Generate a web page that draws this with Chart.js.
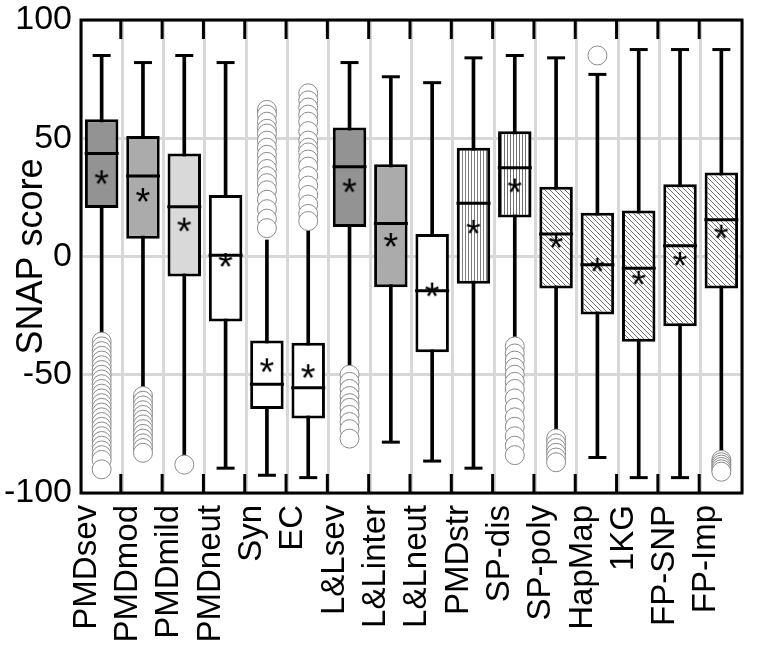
<!DOCTYPE html>
<html><head><meta charset="utf-8">
<script src="https://cdn.jsdelivr.net/npm/chart.js@4"></script>
<style>html,body{margin:0;padding:0;background:#fff;}</style>
</head><body>
<canvas id="c" width="762" height="652" style="width:762px;height:652px;display:block"></canvas>
<script>
const categories = ['PMDsev','PMDmod','PMDmild','PMDneut','Syn','EC','L&Lsev','L&Linter','L&Lneut','PMDstr','SP-dis','SP-poly','HapMap','1KG','FP-SNP','FP-Imp'];
const whiskerHigh = [85, 82, 85, 82, 7, 11, 82, 76, 73.5, 84, 85, 84, 77, 87.5, 87.5, 87.5];
const q3 = [58, 51, 43.5, 26, -35.5, -36.5, 54.5, 39, 9.5, 46, 53, 29.5, 18.5, 19.5, 30.5, 35.5];
const medians = [43.5, 34, 21, 0.5, -54, -55.5, 38, 14, -14.5, 22.5, 37.5, 9.5, -3.5, -5, 4.5, 15.5];
const q1 = [20.5, 7.5, -8.5, -27.5, -64.5, -68.5, 12.5, -13, -40.5, -11.5, 16.5, -13.5, -24.5, -36, -29.5, -13.5];
const whiskerLow = [-34, -57, -85, -89.5, -92.5, -93.5, -48, -78.5, -86.5, -89.5, -35.5, -75, -85, -93.5, -93.5, -83.5];
const means = [33.5, 26, 13.5, -1.5, -46, -48.5, 30, 7, -14, 12.5, 30, 6.5, -3.5, -9, -1, 10.5];
const outliers = [
  [-36,-38,-40,-42,-44,-46,-48,-50,-52,-54,-56,-58,-60,-62,-64,-66,-68,-70,-72,-74,-76,-78,-80,-82,-84,-86,-90],
  [-59,-61,-63,-65,-67,-69,-71,-73,-75,-77,-79,-81,-83],
  [-88],
  [],
  [62,60,57,54,52,49,46,43,40,37,34,31,28,24,20,16,12],
  [69,66,63,60,57,53,49,46,44,41,38,34,30,26,22,18,15],
  [-50,-53,-56,-59,-62,-64,-67,-70,-73,-77],
  [],
  [],
  [],
  [-38,-41,-44,-47,-50,-53,-56,-60,-64,-68,-72,-76,-80,-84],
  [-77,-79,-81,-83,-85,-87],
  [85],
  [],
  [],
  [-86,-87,-88,-89,-90,-91]
];
const yTicks = [-100, -50, 0, 50, 100];

const FONT = "'Liberation Sans', Arial, Helvetica, sans-serif";
Chart.defaults.font.family = FONT;

function vPattern(step, color){
  const c = document.createElement('canvas'); c.width = step; c.height = 4;
  const g = c.getContext('2d'); g.fillStyle = '#fff'; g.fillRect(0,0,step,4);
  g.fillStyle = color; g.fillRect(0,0,1,4);
  return g.createPattern(c, 'repeat');
}
function dPattern(s, color){
  const c = document.createElement('canvas'); c.width = s; c.height = s;
  const g = c.getContext('2d'); g.fillStyle = '#fff'; g.fillRect(0,0,s,s);
  g.fillStyle = color;
  for (let i = 0; i < s; i++) g.fillRect(i, i, 1, 1);
  return g.createPattern(c, 'repeat');
}
function starImg(){
  const c = document.createElement('canvas'); c.width = 24; c.height = 24;
  const g = c.getContext('2d'); g.font = "38px " + FONT; g.fillStyle = '#000';
  const m = g.measureText('*');
  g.fillText('*', 12 - (m.actualBoundingBoxRight - m.actualBoundingBoxLeft)/2, 12 + (m.actualBoundingBoxAscent - m.actualBoundingBoxDescent)/2);
  return c;
}
const vPat = vPattern(3, '#7d7d7d');
const vPat2 = vPattern(3, '#6e6e6e');
const dPat = dPattern(5, '#6e6e6e');
const boxFill = ['#939393','#ababab','#d9d9d9','#ffffff','#ffffff','#ffffff','#939393','#ababab','#ffffff', vPat, vPat2, dPat, dPat, dPat, dPat, dPat];

const outlierPoints = [];
outliers.forEach((arr, i) => arr.forEach(v => outlierPoints.push({x: categories[i], y: v})));

// hide a whisker cap when an outlier circle sits right on the whisker end
function capRadius(i, high){
  const w = high ? whiskerHigh[i] : whiskerLow[i];
  const near = outliers[i].some(v => (high ? v > w : v < w) && Math.abs(v - w) < 6);
  return near ? 0 : 9;
}

const framePlugin = {
  id: 'frame',
  afterDatasetsDraw(chart){
    const {ctx, chartArea: a, scales: {x}} = chart;
    ctx.save(); ctx.strokeStyle = '#000'; ctx.lineWidth = 3;
    ctx.strokeRect(a.left, a.top, a.right - a.left, a.bottom - a.top);
    ctx.beginPath();
    for (let i = 1; i < categories.length; i++){
      const px = (x.getPixelForValue(i-1) + x.getPixelForValue(i)) / 2 - 1.5;
      ctx.moveTo(px, a.top); ctx.lineTo(px, a.top + 19);
      ctx.moveTo(px, a.bottom); ctx.lineTo(px, a.bottom - 19);
    }
    ctx.stroke(); ctx.restore();
  }
};

new Chart(document.getElementById('c'), {
  type: 'bar',
  data: {
    labels: categories,
    datasets: [
      { type: 'bar', data: whiskerLow.map((lo, i) => [lo, whiskerHigh[i]]), backgroundColor: '#000', borderWidth: 0, barThickness: 3, grouped: false, order: 6 },
      { type: 'bar', data: q1.map((lo, i) => [lo, q3[i]]), backgroundColor: boxFill, borderColor: '#000', borderWidth: 3, borderSkipped: false, barPercentage: 0.81, categoryPercentage: 1, grouped: false, order: 5 },
      { type: 'line', data: medians, showLine: false, pointStyle: 'line', pointRadius: 17, pointHoverRadius: 17, pointBorderWidth: 3, pointHoverBorderWidth: 3, borderColor: '#000', pointBorderColor: '#000', order: 3 },
      { type: 'line', data: whiskerHigh, showLine: false, pointStyle: 'line', pointRadius: c => capRadius(c.dataIndex, true), pointBorderWidth: 3, borderColor: '#000', pointBorderColor: '#000', order: 4 },
      { type: 'line', data: whiskerLow, showLine: false, pointStyle: 'line', pointRadius: c => capRadius(c.dataIndex, false), pointBorderWidth: 3, borderColor: '#000', pointBorderColor: '#000', order: 4 },
      { type: 'line', data: outlierPoints, showLine: false, pointStyle: 'circle', pointRadius: 9.5, pointHoverRadius: 9.5, pointBackgroundColor: '#fff', pointBorderColor: '#8a8a8a', pointBorderWidth: 1, order: 2 },
      { type: 'line', data: means, showLine: false, pointStyle: starImg(), order: 1 }
    ]
  },
  options: {
    responsive: false, animation: false, events: [],
    layout: { padding: { top: 13, right: 6, left: 0, bottom: 0 } },
    plugins: { legend: { display: false }, tooltip: { enabled: false } },
    scales: {
      x: {
        type: 'category', offset: true,
        grid: { offset: true, color: '#d8d8d8', lineWidth: 3, drawTicks: false },
        border: { display: false },
        ticks: { autoSkip: false, minRotation: 90, maxRotation: 90, color: '#000', font: { size: 33 }, padding: 12, labelOffset: -15 },
        afterFit: s => { s.height = 159; s.paddingLeft = 0; s.paddingRight = 0; }
      },
      y: {
        min: -100, max: 100,
        afterBuildTicks: s => { s.ticks = yTicks.map(v => ({ value: v })); },
        ticks: { color: '#000', font: { size: 34 }, padding: 9 },
        grid: { color: '#d8d8d8', lineWidth: 3, drawTicks: false },
        border: { display: false },
        title: { display: true, text: 'SNAP score', color: '#000', font: { size: 36 }, padding: { top: 10, bottom: 0 } },
        afterFit: s => { s.width = 81; s.paddingTop = 0; s.paddingBottom = 0; }
      }
    }
  },
  plugins: [framePlugin]
});
</script>
</body></html>
